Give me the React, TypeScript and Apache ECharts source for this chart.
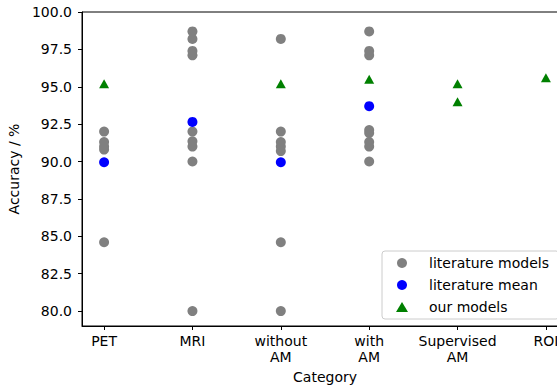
import React, { useEffect, useRef } from "react";
import * as echarts from "echarts";

const categories = ["PET", "MRI", "without\nAM", "with\nAM", "Supervised\nAM", "ROI"];
const yTicks = [80, 82.5, 85, 87.5, 90, 92.5, 95, 97.5, 100];
const xTicks = [0, 1, 2, 3, 4, 5];

// [categoryIndex, accuracy]
const literatureModels: [number, number][] = [
  [0, 92.0], [0, 91.3], [0, 91.0], [0, 90.8], [0, 84.6],
  [1, 98.7], [1, 98.2], [1, 97.4], [1, 97.1], [1, 92.0], [1, 91.35], [1, 91.0], [1, 90.0], [1, 80.0],
  [2, 98.2], [2, 92.0], [2, 91.3], [2, 91.0], [2, 90.7], [2, 84.6], [2, 80.0],
  [3, 98.7], [3, 97.4], [3, 97.1], [3, 92.1], [3, 91.9], [3, 91.3], [3, 91.0], [3, 90.0],
];
const literatureMean: [number, number][] = [
  [0, 89.95], [1, 92.65], [2, 89.95], [3, 93.7],
];
const ourModels: [number, number][] = [
  [0, 95.2], [2, 95.2], [3, 95.5], [4, 95.2], [4, 94.0], [5, 95.6],
];

const FONT = "DejaVu Sans";

export default function App() {
  const ref = useRef<HTMLDivElement>(null);
  useEffect(() => {
    if (!ref.current) return;
    document.body.style.margin = "0";
    document.body.style.overflow = "hidden";
    const chart = echarts.init(ref.current, undefined, { renderer: "svg" });
    chart.setOption({
      animation: false,
      textStyle: { fontFamily: FONT },
      grid: {
        left: 82, top: 12, width: 486, height: 314,
        outerBoundsMode: "none", containLabel: false,
        show: true, borderColor: "#000", borderWidth: 1, backgroundColor: "transparent",
      },
      xAxis: {
        type: "value", min: -0.25, max: 5.25,
        name: "Category", nameLocation: "middle", nameGap: 44,
        nameTextStyle: { fontSize: 14, color: "#000", fontFamily: FONT },
        axisLine: { show: true, onZero: false, lineStyle: { color: "#000" } },
        axisTick: { show: true, length: 4, lineStyle: { color: "#000" }, customValues: xTicks },
        axisLabel: {
          customValues: xTicks,
          formatter: (v: number) => categories[Math.round(v)] ?? "",
          fontSize: 14, color: "#000", fontFamily: FONT, margin: 7, lineHeight: 16, align: "center",
        },
        splitLine: { show: false },
      },
      yAxis: {
        type: "value", min: 79, max: 100,
        name: "Accuracy / %", nameLocation: "middle", nameGap: 55, nameRotate: 90,
        nameTextStyle: { fontSize: 14, color: "#000", fontFamily: FONT },
        axisLine: { show: true, onZero: false, lineStyle: { color: "#000" } },
        axisTick: { show: true, length: 4, lineStyle: { color: "#000" }, customValues: yTicks },
        axisLabel: {
          customValues: yTicks,
          formatter: (v: number) => v.toFixed(1),
          fontSize: 14, color: "#000", fontFamily: FONT, margin: 10,
        },
        splitLine: { show: false },
      },
      legend: {
        orient: "vertical", left: 382, top: 251,
        padding: [5, 10, 5, 14],
        itemWidth: 12, itemHeight: 10, itemGap: 8,
        borderColor: "#cccccc", borderWidth: 1, borderRadius: 3,
        backgroundColor: "rgba(255,255,255,0.8)",
        textStyle: { fontSize: 14, color: "#000", fontFamily: FONT, padding: [0, 0, 0, 16], lineHeight: 14 },
        data: ["literature models", "literature mean", "our models"],
      },
      series: [
        {
          name: "literature models", type: "scatter", data: literatureModels,
          symbol: "circle", symbolSize: 10, itemStyle: { color: "#808080", opacity: 1 },
        },
        {
          name: "literature mean", type: "scatter", data: literatureMean,
          symbol: "circle", symbolSize: 10, itemStyle: { color: "#0000ff", opacity: 1 },
        },
        {
          name: "our models", type: "scatter", data: ourModels,
          symbol: "triangle", symbolSize: [10, 9], itemStyle: { color: "#008000", opacity: 1 },
        },
      ],
    });
    return () => chart.dispose();
  }, []);
  return (
    <div
      ref={ref}
      style={{ position: "fixed", left: 0, top: 0, width: 557, height: 385, background: "#fff", overflow: "hidden" }}
    />
  );
}
